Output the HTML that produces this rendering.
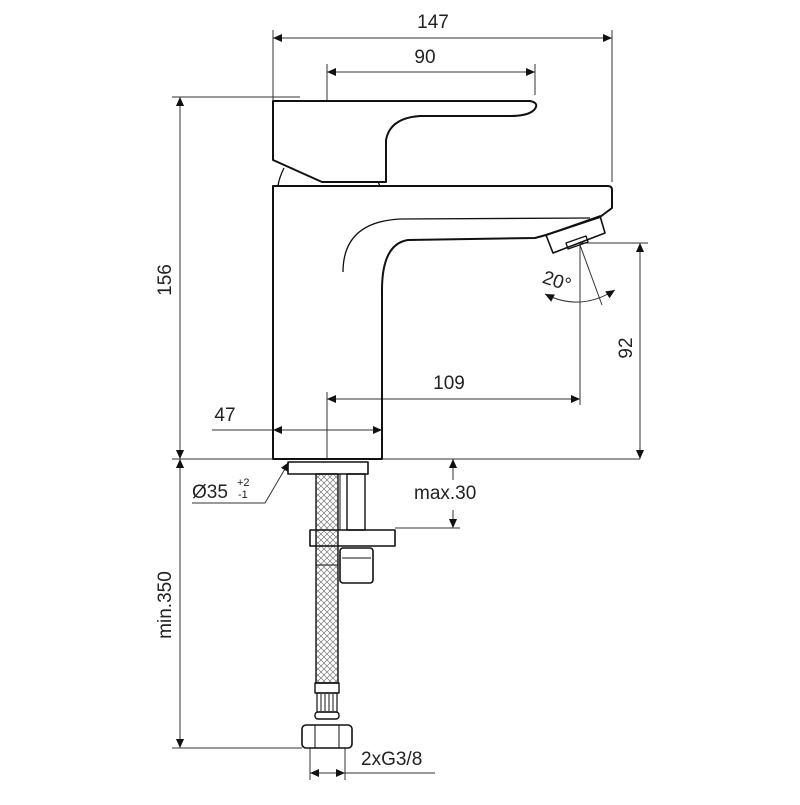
<!DOCTYPE html>
<html><head><style>
html,body{margin:0;padding:0;background:#fff;}
text{font-family:"Liberation Sans",Arial,sans-serif;fill:#222;}
</style></head><body>
<svg width="800" height="800" viewBox="0 0 800 800" xmlns="http://www.w3.org/2000/svg">
<defs>
<marker id="a" viewBox="0 0 10 10" refX="10" refY="5" markerWidth="16" markerHeight="9" markerUnits="userSpaceOnUse" orient="auto-start-reverse"><path d="M0,0.5 L10,5 L0,9.5 z" fill="#111"/></marker>
<pattern id="br" width="6" height="6" patternUnits="userSpaceOnUse"><path d="M0,3 L3,0 M3,6 L6,3 M0,3 L3,6 M3,0 L6,3" stroke="#777" stroke-width="0.7" fill="none"/></pattern>
</defs>
<g stroke="#333" stroke-width="1" fill="none">
<line x1="273" y1="30" x2="273" y2="100"/><line x1="612" y1="30" x2="612" y2="182"/>
<line x1="273" y1="38" x2="612" y2="38" marker-start="url(#a)" marker-end="url(#a)"/>
<line x1="327" y1="64" x2="327" y2="100"/><line x1="535" y1="64" x2="535" y2="95"/>
<line x1="327" y1="72" x2="535" y2="72" marker-start="url(#a)" marker-end="url(#a)"/>
<line x1="172" y1="97" x2="300" y2="97"/>
<line x1="172" y1="459" x2="640" y2="459"/>
<line x1="180" y1="97" x2="180" y2="459" marker-start="url(#a)" marker-end="url(#a)"/>
<line x1="580" y1="243" x2="648" y2="243"/>
<line x1="640" y1="243" x2="640" y2="459" marker-start="url(#a)" marker-end="url(#a)"/>
<line x1="580" y1="243" x2="580" y2="405"/>
<line x1="327" y1="392" x2="327" y2="459"/>
<line x1="327" y1="399" x2="580" y2="399" marker-start="url(#a)" marker-end="url(#a)"/>
<line x1="212" y1="430" x2="382" y2="430" marker-end="url(#a)"/>
<line x1="273" y1="430" x2="300" y2="430" marker-start="url(#a)"/>
<line x1="580" y1="245" x2="602" y2="305"/>
<path d="M545,294 Q580,312 615,290" marker-start="url(#a)" marker-end="url(#a)"/>
<line x1="180" y1="459" x2="180" y2="748" marker-start="url(#a)" marker-end="url(#a)"/>
<line x1="172" y1="748" x2="302" y2="748"/>
<line x1="453" y1="459" x2="453" y2="480" marker-start="url(#a)"/>
<line x1="453" y1="510" x2="453" y2="528" marker-end="url(#a)"/>
<line x1="395" y1="528" x2="460" y2="528"/>
<polyline points="192,503 265,503 289,462" marker-end="url(#a)"/>
<line x1="310" y1="748" x2="310" y2="780"/><line x1="345" y1="748" x2="345" y2="780"/>
<line x1="310" y1="773" x2="328" y2="773" marker-start="url(#a)"/>
<line x1="327" y1="773" x2="345" y2="773" marker-end="url(#a)"/>
<line x1="345" y1="773" x2="435" y2="773"/>
</g>
<g stroke="#111" stroke-width="2" fill="none" stroke-linejoin="round">
<path d="M273,101 L530,101 Q540,103 534,110 Q528,116 510,116 L420,116 Q390,118 386,140 L386,182 L322,182 L273,160 Z"/>
<path d="M284,168 Q279,178 278,186 M378,182 L380,186" stroke-width="1.3"/>
<path d="M273,186 L608,186 Q612,186 612,190 L612,208 L600,217 L546,235 L535,238 L408,240 Q382,244 382,290 L382,459 L273,459 Z"/>
<path d="M343,272 Q343,222 400,219 L590,218" stroke-width="1.3"/>
<path d="M546,235 L600,216 L605,233 L553,253 Z" stroke-width="1.6"/>
<path d="M566,243 L586,236 L588,242 L568,249 Z" stroke-width="1.3"/>
<line x1="275" y1="459" x2="378" y2="459"/>
<rect x="288" y="462" width="80" height="12" stroke-width="1.6"/>
<rect x="316" y="474" width="22" height="209" fill="url(#br)" stroke-width="1.4"/>
<rect x="347" y="474" width="18" height="56" stroke-width="1.4"/>
<line x1="340" y1="474" x2="340" y2="530" stroke-width="1"/>
<rect x="310" y="530" width="85" height="16" stroke-width="1.6"/>
<rect x="340" y="548" width="33" height="35" rx="3" stroke-width="1.6"/>
<line x1="342" y1="558" x2="371" y2="558" stroke-width="1"/>
<line x1="316" y1="565" x2="338" y2="565" stroke-width="1"/>
<rect x="315" y="683" width="24" height="10" stroke-width="1.4"/>
<rect x="317" y="693" width="20" height="19" stroke-width="1.2"/>
<path d="M321,694 V711 M325,694 V711 M329,694 V711 M333,694 V711" stroke-width="1"/>
<rect x="315" y="712" width="24" height="7" rx="3" stroke-width="1.4"/>
<rect x="302" y="725" width="50" height="23" rx="4" stroke-width="1.6"/>
<line x1="315" y1="725" x2="315" y2="748" stroke-width="1"/><line x1="339" y1="725" x2="339" y2="748" stroke-width="1"/>
</g>
<g font-size="19">
<text x="433" y="28" text-anchor="middle">147</text>
<text x="425" y="63" text-anchor="middle">90</text>
<text x="449" y="389" text-anchor="middle">109</text>
<text x="225" y="421" text-anchor="middle">47</text>
<text x="171" y="280" text-anchor="middle" transform="rotate(-90 171 280)">156</text>
<text x="632" y="348" text-anchor="middle" transform="rotate(-90 632 348)">92</text>
<text x="171" y="605" text-anchor="middle" transform="rotate(-90 171 605)">min.350</text>
<text x="555" y="287" text-anchor="middle" transform="rotate(18 555 287)">20°</text>
<text x="414" y="499">max.30</text>
<text x="361" y="765">2xG3/8</text>
<text x="192" y="498">Ø35</text>
<text x="237" y="486" font-size="11">+2</text>
<text x="238" y="498" font-size="11">-1</text>
</g>
</svg>
</body></html>
